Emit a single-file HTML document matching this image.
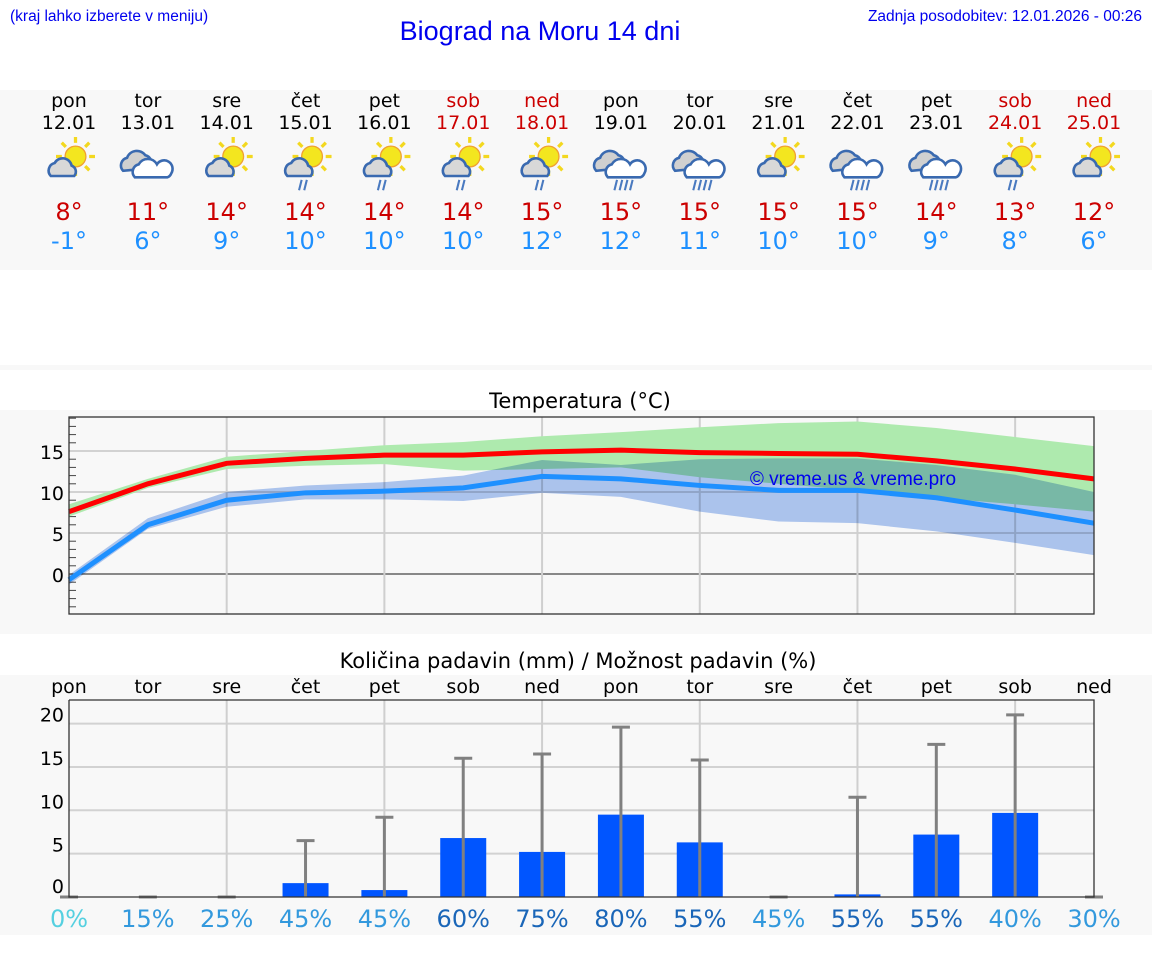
<!DOCTYPE html>
<html><head><meta charset="utf-8"><style>
body{margin:0;background:#fff;width:1152px;height:975px;overflow:hidden;font-family:"DejaVu Sans","Liberation Sans",sans-serif}
svg{display:block}
</style></head><body>
<svg width="1152" height="975" id="svg">
<rect x="0" y="90" width="1152" height="180" fill="#f8f8f8"/>
<rect x="0" y="365" width="1152" height="5" fill="#f8f8f8"/>
<rect x="0" y="410" width="1152" height="224" fill="#f8f8f8"/>
<rect x="0" y="675" width="1152" height="260" fill="#f8f8f8"/>
<text x="10" y="21" font-family="Liberation Sans" font-size="15.5" fill="#0000ee">(kraj lahko izberete v meniju)</text>
<text x="540" y="40" text-anchor="middle" font-family="Liberation Sans" font-size="27" fill="#0000ee">Biograd na Moru 14 dni</text>
<text x="1142" y="21" text-anchor="end" font-family="Liberation Sans" font-size="15.5" fill="#0000ee">Zadnja posodobitev: 12.01.2026 - 00:26</text>
<text x="580" y="408" text-anchor="middle" font-size="21" fill="#000">Temperatura (°C)</text>
<text x="578" y="668" text-anchor="middle" font-size="21" fill="#000">Količina padavin (mm) / Možnost padavin (%)</text>
<g id="g"></g>
<text x="853" y="485" text-anchor="middle" font-family="Liberation Sans" font-size="19" fill="#0000ee">© vreme.us &amp; vreme.pro</text>
</svg>
<script>
const days=["pon","tor","sre","čet","pet","sob","ned","pon","tor","sre","čet","pet","sob","ned"];
const dates=["12.01","13.01","14.01","15.01","16.01","17.01","18.01","19.01","20.01","21.01","22.01","23.01","24.01","25.01"];
const icons=["ps","c","ps","psr","psr","psr","psr","cr","cr","ps","cr","cr","psr","ps"];
const maxT=[8,11,14,14,14,14,15,15,15,15,15,14,13,12];
const minT=[-1,6,9,10,10,10,12,12,11,10,10,9,8,6];
const maxLine=[7.6,11,13.5,14.1,14.5,14.5,14.9,15.1,14.8,14.7,14.6,13.8,12.8,11.6];
const maxHi=[8.5,11.6,14.3,15.0,15.7,16.1,16.8,17.3,17.9,18.4,18.6,17.8,16.7,15.6];
const maxLo=[7.0,10.5,12.8,13.2,13.4,12.6,12.8,13.0,11.8,11.0,10.2,9.3,8.5,7.6];
const minLine=[-0.7,6.0,9.0,9.9,10.1,10.5,11.9,11.6,10.8,10.2,10.2,9.3,7.8,6.2];
const minHi=[-0.1,6.8,10.0,10.8,11.2,12.0,13.9,13.3,14.0,14.1,14.1,13.3,12.1,10.0];
const minLo=[-1.3,5.5,8.2,9.1,9.1,8.9,9.9,9.4,7.6,6.4,6.2,5.2,3.8,2.3];
const precip=[0,0,0,1.6,0.8,6.8,5.2,9.5,6.3,0,0.3,7.2,9.7,0];
const precipMax=[0,0,0,6.5,9.2,16,16.5,19.6,15.8,0,11.5,17.6,21,0];
const chance=[0,15,25,45,45,60,75,80,55,45,55,55,40,30];
const tTicks=[0,5,10,15];
const pTicks=[0,5,10,15,20];

const g=document.getElementById('g');const NS="http://www.w3.org/2000/svg";
function mk(t,a,p){const e=document.createElementNS(NS,t);for(const k in a)e.setAttribute(k,a[k]);(p||g).appendChild(e);return e;}
const X=i=>69+i*(1025/13);
const TY=v=>574-v*8.2;
const PY=v=>897-v*8.67;
days.forEach((d,i)=>{
 const we=(i==5||i==6||i==12||i==13);
 let t=mk('text',{x:X(i),y:107,'text-anchor':'middle','font-size':19,fill:we?'#cc0000':'#000'});t.textContent=d;
 
 
 t=mk('text',{x:X(i),y:129,'text-anchor':'middle','font-size':19,fill:we?'#cc0000':'#000'});t.textContent=dates[i];
 
 
 const ig=mk('g',{transform:`translate(${X(i)},163) scale(1.3)`});
 
 
 const ic=icons[i];
 if(ic[0]=='p'){
  mk('circle',{cx:5,cy:-5,r:8,fill:'#f3e61f',stroke:'#f0a030','stroke-width':1},ig);
  for(let k=0;k<8;k++){const a=k*Math.PI/4;mk('line',{x1:5+10.5*Math.cos(a),y1:-5+10.5*Math.sin(a),x2:5+15*Math.cos(a),y2:-5+15*Math.sin(a),stroke:'#f3d81f','stroke-width':2.5},ig);}
  mk('path',{d:'M-14 10 a6 6 0 0 1 3 -10 a7 7 0 0 1 13 2 a5 5 0 0 1 2 8 z',fill:'#d8d8d8',stroke:'#3a6ab0','stroke-width':2},ig);
 } else {
  mk('path',{d:'M-19 6 a6 6 0 0 1 3 -10 a8 8 0 0 1 14 -2 a6 6 0 0 1 3 10 z',fill:'#d0d0d0',stroke:'#3a6ab0','stroke-width':2},ig);
  mk('path',{d:'M-10 11 a6 6 0 0 1 3 -10 a8 8 0 0 1 14 0 a6 6 0 0 1 11 7 a5 5 0 0 1 -3 3 z',fill:'#fff',stroke:'#3a6ab0','stroke-width':2},ig);
 }
 if(ic.endsWith('r')){const n=ic=='cr'?4:2;for(let k=0;k<n;k++)mk('line',{x1:-3+k*4,y1:13,x2:-5+k*4,y2:21,stroke:'#4a7ac0','stroke-width':1.6},ig);}
 t=mk('text',{x:X(i),y:220,'text-anchor':'middle','font-size':24,fill:'#cc0000'});t.textContent=maxT[i]+'°';
 
 
 t=mk('text',{x:X(i),y:249,'text-anchor':'middle','font-size':24,fill:'#1e90ff'});t.textContent=minT[i]+'°';
 
 
});
for(let v=-4;v<=19;v++){mk('line',{x1:69,x2:76,y1:TY(v),y2:TY(v),stroke:'#444','stroke-width':1});}
tTicks.forEach(v=>{
 const l=mk('line',{x1:69,x2:1094,y1:TY(v),y2:TY(v),stroke:v==0?'#444':'#d2d2d2','stroke-width':v==0?1.2:2});
 
 
 const t=mk('text',{x:64,y:TY(v)+8,'text-anchor':'end','font-size':19,fill:'#000'});t.textContent=v;
 
 
});
for(let i=2;i<13;i+=2){const l=mk('line',{x1:X(i),x2:X(i),y1:417,y2:614,stroke:'#cfcfcf','stroke-width':2});}
function band(hi,lo,fill,name,blend){let d='M'+hi.map((v,i)=>X(i)+' '+TY(v)).join(' L');for(let i=lo.length-1;i>=0;i--)d+=' L'+X(i)+' '+TY(lo[i]);const p=mk('path',{d:d+'Z',fill:fill});if(blend)p.style.mixBlendMode='multiply';}
band(maxHi,maxLo,'#aeeaae','max-temp-range');
band(minHi,minLo,'#b0c9f3','min-temp-range',true);
function line(a,c,name){const p=mk('polyline',{points:a.map((v,i)=>X(i)+','+TY(v)).join(' '),fill:'none',stroke:c,'stroke-width':5});}
line(minLine,'#1e90ff','min-temp-line');
line(maxLine,'#ff0000','max-temp-line');
mk('rect',{x:69,y:417,width:1025,height:197,fill:'none',stroke:'#333','stroke-width':1.3});
days.forEach((d,i)=>{const t=mk('text',{x:X(i),y:693,'text-anchor':'middle','font-size':19,fill:'#000'});t.textContent=d;
 
 });
pTicks.forEach(v=>{
 if(v>0){const l=mk('line',{x1:69,x2:1094,y1:PY(v),y2:PY(v),stroke:'#d2d2d2','stroke-width':2});}
 const t=mk('text',{x:64,y:v==0?893:PY(v)-2,'text-anchor':'end','font-size':19,fill:'#000'});t.textContent=v;
 
 
});
for(let i=2;i<13;i+=2){const l=mk('line',{x1:X(i),x2:X(i),y1:700,y2:897,stroke:'#cfcfcf','stroke-width':2});}
precip.forEach((v,i)=>{
 const b=mk('rect',{x:X(i)-23,y:PY(v),width:46,height:897-PY(v),fill:'#0055ff'});
 
 
 const e=mk('line',{x1:X(i),x2:X(i),y1:PY(precipMax[i]),y2:897,stroke:'#808080','stroke-width':3});
 
 
 mk('line',{x1:X(i)-9,x2:X(i)+9,y1:PY(precipMax[i]),y2:PY(precipMax[i]),stroke:'#808080','stroke-width':3});
 const c=chance[i];const col=c==0?'#55d0e0':c>=55?'#1a66b8':'#3399dd';
 const t=mk('text',{x:X(i),y:927,'text-anchor':'middle','font-size':24,fill:col});t.textContent=c+'%';
 
 
});
mk('polyline',{points:'69,700 1094,700 1094,897 69,897 69,700',fill:'none',stroke:'#333','stroke-width':1.3});
</script>
</body></html>
